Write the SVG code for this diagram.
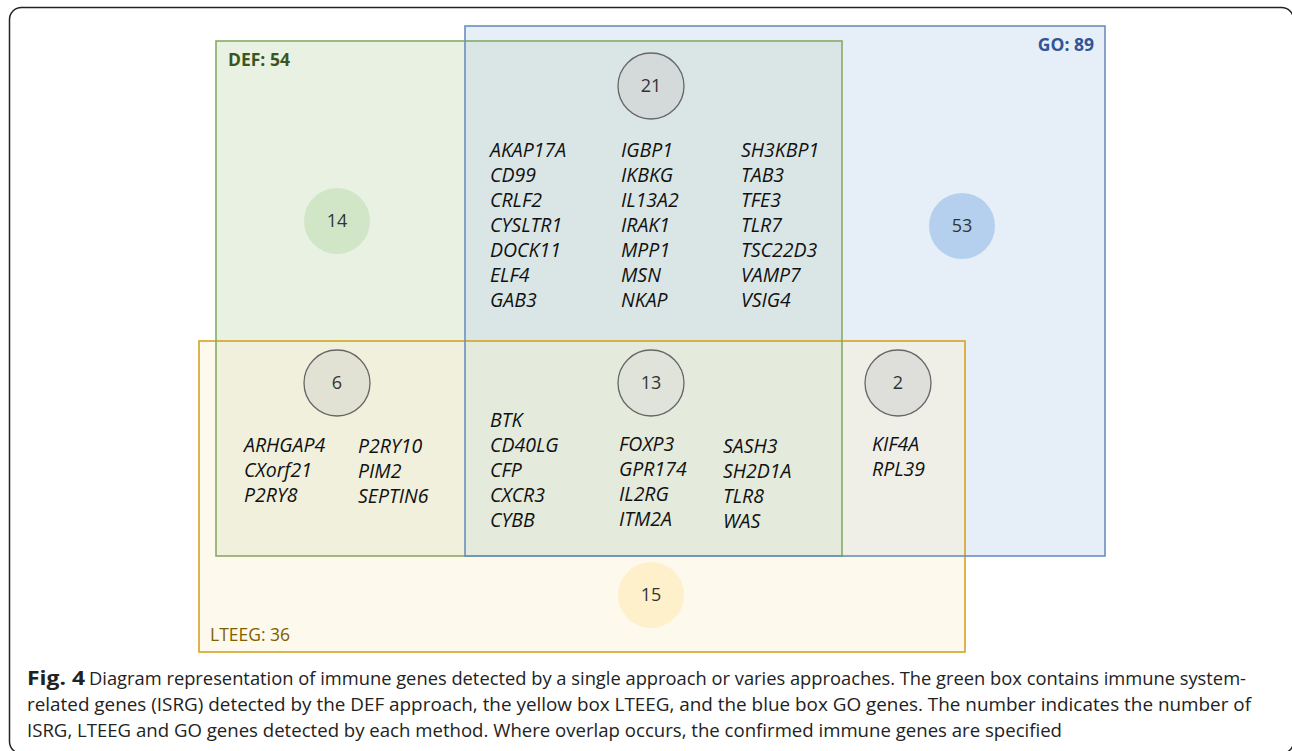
<svg xmlns="http://www.w3.org/2000/svg" width="1292" height="751" viewBox="0 0 1292 751">
<style>
.gene{font-family:"Open Sans","Liberation Sans",sans-serif;font-style:italic;font-size:19.5px;fill:#111}
.num{font-family:"Open Sans","Liberation Sans",sans-serif;font-size:18px;fill:#333;text-anchor:middle}
.lbl{font-family:"Open Sans","Liberation Sans",sans-serif;font-size:17.5px}
.cap{font-family:"Liberation Sans Narrow","Open Sans","Liberation Sans",sans-serif;font-size:19px;fill:#222}
.ring{stroke:#666;stroke-width:1.3}
</style>
<rect x="9.5" y="7.5" width="1284" height="746" rx="12" fill="#fff" stroke="#222" stroke-width="1.5"/>
<g id="fills">
<rect x="465" y="26" width="640" height="530" fill="#e6eef8"/>
<rect x="216" y="41" width="626" height="515" fill="#e9f1e3"/>
<rect x="465" y="41" width="377" height="300" fill="#dae6e6"/>
<rect x="199" y="341" width="766" height="311" fill="#fdf9ec"/>
<rect x="216" y="341" width="249" height="215" fill="#f0f0dc"/>
<rect x="465" y="341" width="377" height="215" fill="#e4eadc"/>
<rect x="842" y="341" width="123" height="215" fill="#efefe8"/>
</g>
<g id="LTEEG">
<rect x="199" y="341" width="766" height="311" fill="none" stroke="#d4a421" stroke-width="1.6"/>
<text class="lbl" x="210" y="641" fill="#7f6000">LTEEG: 36</text>
</g>
<g id="DEF">
<rect x="216" y="41" width="626" height="515" fill="none" stroke="#86ab66" stroke-width="1.6"/>
<text class="lbl" x="228" y="66" fill="#375623" font-weight="bold">DEF: 54</text>
</g>
<g id="GO">
<rect x="465" y="26" width="640" height="530" fill="none" stroke="#6a8fbf" stroke-width="1.6"/>
<text class="lbl" x="1094" y="51" fill="#2f5597" font-weight="bold" text-anchor="end">GO: 89</text>
</g>
<g id="connectors"/>
<g id="n21">
<circle class="ring" cx="651" cy="86" r="33" fill="#d4d9d9"/>
<text class="num" x="651" y="92">21</text>
<text class="gene" x="490" y="157">AKAP17A<tspan x="490" dy="25">CD99</tspan><tspan x="490" dy="25">CRLF2</tspan><tspan x="490" dy="25">CYSLTR1</tspan><tspan x="490" dy="25">DOCK11</tspan><tspan x="490" dy="25">ELF4</tspan><tspan x="490" dy="25">GAB3</tspan></text>
<text class="gene" x="621" y="157">IGBP1<tspan x="621" dy="25">IKBKG</tspan><tspan x="621" dy="25">IL13A2</tspan><tspan x="621" dy="25">IRAK1</tspan><tspan x="621" dy="25">MPP1</tspan><tspan x="621" dy="25">MSN</tspan><tspan x="621" dy="25">NKAP</tspan></text>
<text class="gene" x="741" y="157">SH3KBP1<tspan x="741" dy="25">TAB3</tspan><tspan x="741" dy="25">TFE3</tspan><tspan x="741" dy="25">TLR7</tspan><tspan x="741" dy="25">TSC22D3</tspan><tspan x="741" dy="25">VAMP7</tspan><tspan x="741" dy="25">VSIG4</tspan></text>
</g>
<g id="n14">
<circle cx="337" cy="221" r="33" fill="#d1e6c7"/>
<text class="num" x="337" y="227">14</text>
</g>
<g id="n53">
<circle cx="962" cy="226" r="33" fill="#b4d0ee"/>
<text class="num" x="962" y="232">53</text>
</g>
<g id="n6">
<circle class="ring" cx="337" cy="383" r="33" fill="#e1e1d4"/>
<text class="num" x="337" y="389">6</text>
<text class="gene" x="244" y="452">ARHGAP4<tspan x="244" dy="25">CXorf21</tspan><tspan x="244" dy="25">P2RY8</tspan></text>
<text class="gene" x="358" y="453">P2RY10<tspan x="358" dy="25">PIM2</tspan><tspan x="358" dy="25">SEPTIN6</tspan></text>
</g>
<g id="n13">
<circle class="ring" cx="651" cy="383" r="33" fill="#dfe3da"/>
<text class="num" x="651" y="389">13</text>
<text class="gene" x="490" y="427">BTK<tspan x="490" dy="25">CD40LG</tspan><tspan x="490" dy="25">CFP</tspan><tspan x="490" dy="25">CXCR3</tspan><tspan x="490" dy="25">CYBB</tspan></text>
<text class="gene" x="619" y="451">FOXP3<tspan x="619" dy="25">GPR174</tspan><tspan x="619" dy="25">IL2RG</tspan><tspan x="619" dy="25">ITM2A</tspan></text>
<text class="gene" x="723" y="453">SASH3<tspan x="723" dy="25">SH2D1A</tspan><tspan x="723" dy="25">TLR8</tspan><tspan x="723" dy="25">WAS</tspan></text>
</g>
<g id="n2">
<circle class="ring" cx="898" cy="383" r="33" fill="#dedfda"/>
<text class="num" x="898" y="389">2</text>
<text class="gene" x="872" y="451">KIF4A<tspan x="872" dy="25">RPL39</tspan></text>
</g>
<g id="n15">
<circle cx="651" cy="595" r="33" fill="#fff0cc"/>
<text class="num" x="651" y="601">15</text>
</g>
<g id="caption">
<text class="cap" x="27" y="685" font-weight="bold" textLength="58" lengthAdjust="spacingAndGlyphs">Fig. 4</text>
<text class="cap" x="89" y="685" textLength="1157" lengthAdjust="spacingAndGlyphs">Diagram representation of immune genes detected by a single approach or varies approaches. The green box contains immune system-</text>
<text class="cap" x="27" y="711" textLength="1224" lengthAdjust="spacingAndGlyphs">related genes (ISRG) detected by the DEF approach, the yellow box LTEEG, and the blue box GO genes. The number indicates the number of</text>
<text class="cap" x="27" y="737" textLength="1035" lengthAdjust="spacingAndGlyphs">ISRG, LTEEG and GO genes detected by each method. Where overlap occurs, the confirmed immune genes are specified</text>
</g>
</svg>
